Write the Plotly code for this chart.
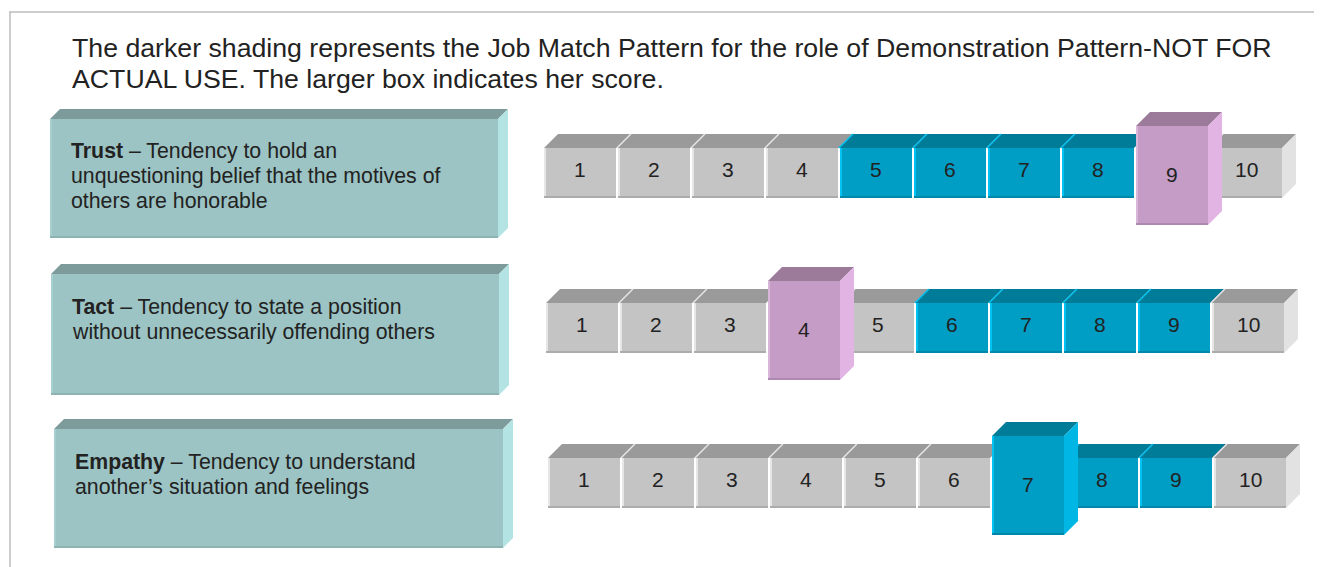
import plotly.graph_objects as go

# ---------------- data ----------------
title_lines = [
    "The darker shading represents the Job Match Pattern for the role of Demonstration Pattern-NOT FOR",
    "ACTUAL USE. The larger box indicates her score.",
]
traits = ["Trust", "Tact", "Empathy"]
descriptions = [
    ["Tendency to hold an", "unquestioning belief that the motives of", "others are honorable"],
    ["Tendency to state a position", "without unnecessarily offending others"],
    ["Tendency to understand", "another\u2019s situation and feelings"],
]
scale_values = [1, 2, 3, 4, 5, 6, 7, 8, 9, 10]
pattern_low = [5, 6, 7]
pattern_high = [8, 9, 9]
scores = [9, 4, 7]

# ---------------- layout constants (page pixels) ----------------
W, H = 1322, 567
PAD = 8  # default page margin around the plot div
FONT = "Liberation Sans, Arial, sans-serif"
TXT = "#222222"

label_boxes = [(50, 119, 498, 238), (51, 274, 499, 395), (54, 429, 503, 548)]
label_text_x = [69, 70, 73]
label_text_y0 = [151, 307, 462]
label_line_gap = 25

row_x0 = [544, 546, 548]
row_ytop = [148, 303, 458]
cell_pitch = 74
cell_w = 72
cell_h = 50
depth = 14
score_up, score_down = 22, 27

styles = {
    "gray": dict(front="#c4c4c4", top="#9a9a9a", side="#e2e2e2", hi="#e6e6e6", bot="#acacac"),
    "teal": dict(front="#009dc5", top="#007b98", side="#00b6e4", hi="#00c3f3", bot="#0088aa"),
    "pink": dict(front="#c49cc6", top="#9c7b9a", side="#e2b4e4", hi="#d8b6da", bot="#ad8aae"),
}
label_style = dict(front="#9cc4c4", top="#7e9b9b", side="#b4e3e3", hi="#a8cfcf", bot="#8db3b3")

shapes = []
annotations = []


def poly(pts, color):
    d = "M " + " L ".join(f"{x},{y}" for x, y in pts) + " Z"
    shapes.append(dict(type="path", path=d, xref="x", yref="y", fillcolor=color,
                       line=dict(color=color, width=0), layer="above"))


def rect(x0, y0, x1, y1, color):
    poly([(x0, y0), (x1, y0), (x1, y1), (x0, y1)], color)


def seg(x0, y0, x1, y1, color, w=1.5):
    shapes.append(dict(type="line", x0=x0, y0=y0, x1=x1, y1=y1, xref="x", yref="y",
                       line=dict(color=color, width=w), layer="above"))


def cube(x0, y0, x1, y1, st, d, side=True, top_x0=None):
    tx0 = x0 if top_x0 is None else top_x0
    poly([(tx0, y0), (tx0 + d, y0 - d), (x1 + d, y0 - d), (x1, y0)], st["top"])
    if side:
        poly([(x1, y0), (x1 + d, y0 - d), (x1 + d, y1 - d), (x1, y1)], st["side"])
    rect(x0, y0, x1, y1, st["front"])
    rect(x0, y0, x0 + 2, y1, st["hi"])
    rect(x0, y1 - 2, x1, y1, st["bot"])


# outer frame (top and left edges visible)
seg(9, 12, W + 20, 12, "#bdbdbd", 1.5)
seg(10, 12, 10, H + 20, "#bdbdbd", 1.5)

# title
for i, line in enumerate(title_lines):
    annotations.append(dict(x=70, y=[48, 79][i], xref="x", yref="y", text=line, showarrow=False,
                            xanchor="left", yanchor="middle",
                            font=dict(family=FONT, size=26.7, color=TXT)))

for r, trait in enumerate(traits):
    bx0, by0, bx1, by1 = label_boxes[r]
    cube(bx0, by0, bx1, by1, label_style, 10)
    for k, line in enumerate(descriptions[r]):
        txt = (f"<b>{trait}</b> \u2013 " + line) if k == 0 else line
        annotations.append(dict(x=label_text_x[r], y=label_text_y0[r] + k * label_line_gap,
                                xref="x", yref="y", text=txt, showarrow=False,
                                xanchor="left", yanchor="middle",
                                font=dict(family=FONT, size=21.3, color=TXT)))

    yt = row_ytop[r]
    yb = yt + cell_h
    score = scores[r]
    in_pat = pattern_low[r] <= score <= pattern_high[r]

    for v in scale_values:
        if v == score:
            continue
        x0 = row_x0[r] + (v - 1) * cell_pitch
        st = styles["teal"] if pattern_low[r] <= v <= pattern_high[r] else styles["gray"]
        last = v == scale_values[-1]
        cube(x0, yt, x0 + cell_w, yb, st, depth, side=last,
             top_x0=x0 if v == scale_values[0] else x0 - 2)
        if v != scale_values[0]:
            seg(x0 - 1, yt, x0 - 1 + depth, yt - depth, st["hi"], 1.2)
        annotations.append(dict(x=x0 + cell_w / 2, y=(yt + yb) / 2 - 4, xref="x", yref="y",
                                text=str(v), showarrow=False, xanchor="center", yanchor="middle",
                                font=dict(family=FONT, size=21, color=TXT)))

    sx0 = row_x0[r] + (score - 1) * cell_pitch
    st = styles["teal"] if in_pat else styles["pink"]
    sy0, sy1 = yt - score_up, yb + score_down
    cube(sx0, sy0, sx0 + cell_w, sy1, st, depth, side=True)
    annotations.append(dict(x=sx0 + cell_w / 2, y=(sy0 + sy1) / 2 - 1, xref="x", yref="y",
                            text=str(score), showarrow=False, xanchor="center", yanchor="middle",
                            font=dict(family=FONT, size=21, color=TXT)))

fig = go.Figure()
fig.add_trace(go.Scatter(x=[PAD, W], y=[PAD, H], mode="markers", marker=dict(opacity=0),
                         hoverinfo="skip", showlegend=False))
fig.update_layout(
    width=W - PAD, height=H - PAD, margin=dict(l=0, r=0, t=0, b=0),
    paper_bgcolor="white", plot_bgcolor="white",
    xaxis=dict(range=[PAD, W], visible=False, fixedrange=True),
    yaxis=dict(range=[H, PAD], visible=False, fixedrange=True),
    shapes=shapes, annotations=annotations, showlegend=False,
)
fig.write_html("out.html")
